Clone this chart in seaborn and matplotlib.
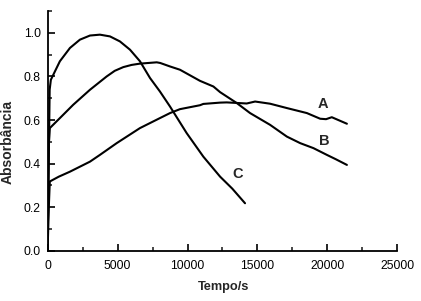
import matplotlib
matplotlib.use("Agg")
import matplotlib.pyplot as plt
import seaborn as sns
import pandas as pd
from matplotlib.ticker import MultipleLocator

t_A = [0, 100, 160, 800, 1600, 3030, 3740, 4940, 6600, 8030, 8750, 9460, 10890, 11130, 12330, 12800,
       14230, 14830, 15900, 17100, 18530, 19480, 19900, 20310, 21390]
a_A = [0.0, 0.22, 0.318, 0.340, 0.363, 0.409, 0.440, 0.494, 0.563, 0.609, 0.632, 0.650, 0.668, 0.674, 0.680, 0.681,
       0.676, 0.685, 0.675, 0.655, 0.632, 0.606, 0.604, 0.613, 0.583]

t_B = [0, 100, 160, 880, 1830, 3030, 4220, 4800, 5410, 6000, 6600, 7800, 8050, 8750, 9460, 10890, 11850, 12330, 13520,
       14470, 15900, 17100, 18050, 19000, 19960, 20600, 21390]
a_B = [0.0, 0.50, 0.563, 0.609, 0.670, 0.739, 0.800, 0.826, 0.843, 0.853, 0.859, 0.865, 0.862, 0.846, 0.831, 0.780, 0.754, 0.728, 0.678,
       0.632, 0.578, 0.524, 0.494, 0.471, 0.440, 0.420, 0.394]

t_C = [0, 150, 236, 880, 1600, 2310, 3030, 3740, 4460, 5170, 5890, 6600, 7320, 8030, 8750, 9940, 11130,
       12330, 13200, 14110]
a_C = [0.0, 0.74, 0.785, 0.870, 0.931, 0.969, 0.988, 0.992, 0.984, 0.961, 0.923, 0.870, 0.793, 0.731, 0.662, 0.540, 0.432,
       0.340, 0.285, 0.218]

labels = ["A", "B", "C"]
label_pos_t = [19650, 19750, 13550]
label_pos_a = [0.673, 0.506, 0.351]

sns.set_theme(style="ticks")
plt.rcParams['font.family'] = ['Liberation Sans', 'DejaVu Sans']

fig = plt.figure(figsize=(4.21, 3.01), dpi=100)
ax = fig.add_axes([0.113, 0.167, 0.831, 0.796])

for t, a in [(t_A, a_A), (t_B, a_B), (t_C, a_C)]:
    df = pd.DataFrame({"t": t, "a": a})
    sns.lineplot(data=df, x="t", y="a", ax=ax, color="black", linewidth=1.5, sort=False, estimator=None)

for lab, x, y in zip(labels, label_pos_t, label_pos_a):
    ax.text(x, y, lab, fontsize=10.5, fontweight="bold", ha="center", va="center")

ax.set_xlim(0, 25000)
ax.set_ylim(0, 1.1)
ax.xaxis.set_major_locator(MultipleLocator(5000))
ax.xaxis.set_minor_locator(MultipleLocator(2500))
ax.yaxis.set_major_locator(MultipleLocator(0.2))
ax.yaxis.set_minor_locator(MultipleLocator(0.1))
ax.yaxis.set_major_formatter(matplotlib.ticker.FormatStrFormatter('%.1f'))
ax.tick_params(which="major", direction="in", length=5, width=1.2, labelsize=8.7, colors="black")
ax.tick_params(axis="x", which="major", pad=6.5)
ax.tick_params(axis="y", which="major", pad=4.8)
ax.tick_params(which="minor", direction="in", length=3, width=1.2)
for s in ["top", "right"]:
    ax.spines[s].set_visible(False)
for s in ["left", "bottom"]:
    ax.spines[s].set_linewidth(1.3)
    ax.spines[s].set_color("black")

ax.set_xlabel("Tempo/s", fontsize=9.2, fontweight="bold")
ax.set_ylabel("Absorbância", fontsize=10, fontweight="bold")
ax.xaxis.set_label_coords(0.502, -0.125, transform=ax.transAxes)
ax.xaxis.label.set_va("top")
ax.yaxis.set_label_coords(-0.094, 0.455, transform=ax.transAxes)

fig.savefig("out.png", dpi=100)
